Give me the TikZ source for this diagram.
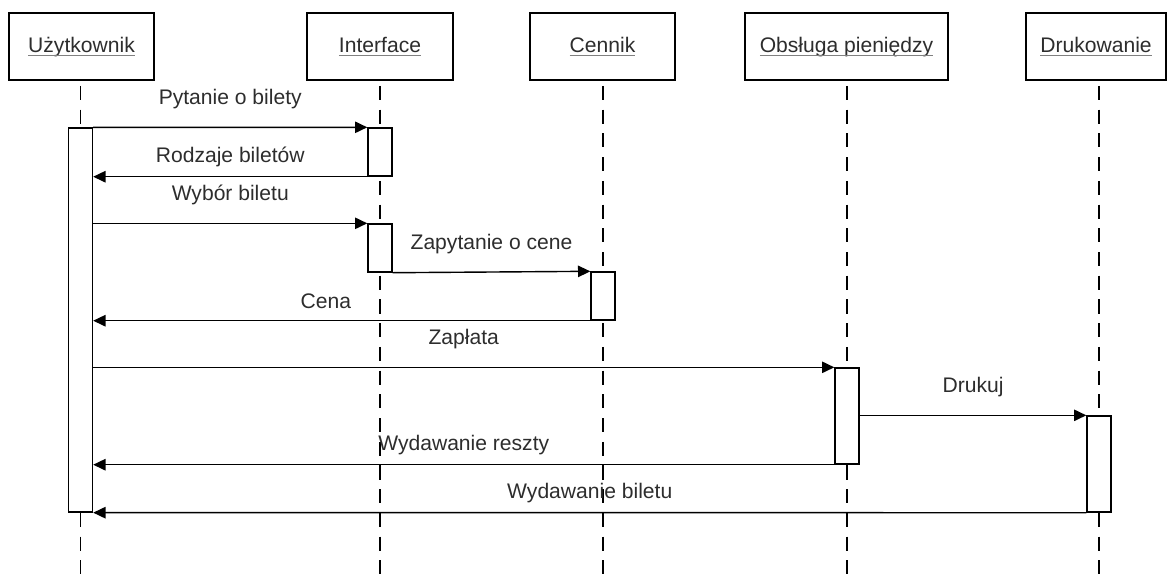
\documentclass[tikz,border=0pt]{standalone}
\usepackage{amsmath}
\usepackage{fontspec}
\setmainfont{Liberation Sans}
\usepackage{tikz}
\usetikzlibrary{arrows.meta,positioning,calc,backgrounds}
\definecolor{labeltext}{RGB}{45,45,45}
\newcommand{\actorname}[1]{\textcolor{gray}{\underline{\textcolor{labeltext}{\smash[b]{#1}}}}}

\begin{document}
\begin{tikzpicture}[
  x=0.02cm, y=-0.02cm,
  font=\fontsize{12}{14}\selectfont,
  actor/.style={draw, line width=0.8pt, minimum height=1.34cm, inner sep=0pt,
                text=labeltext},
  act/.style={draw, fill=white, line width=0.8pt, minimum width=0.48cm, inner sep=0pt},
  life/.style={line width=0.8pt, dash pattern=on 8pt off 5.5pt, shorten <=3pt},
  msg/.style={-{Triangle[length=7pt,width=6.5pt]}, line width=0.8pt},
  fwd/.style={midway, yshift=16pt, inner sep=0pt, text=labeltext},
  back/.style={midway, yshift=11pt, inner sep=0pt, text=labeltext},
]
\useasboundingbox (0,0) rectangle (1168,579);
\coordinate (bot) at (0,579);

% Actors
\node[actor, minimum width=2.9cm] (hu) at (81.5,46.5) {\actorname{Użytkownik}};
\node[actor, minimum width=2.92cm] (hi) at (380,46.5) {\actorname{Interface}};
\node[actor, minimum width=2.9cm] (hc) at (602.5,46.5) {\actorname{Cennik}};
\node[actor, minimum width=4.06cm] (ho) at (846.5,46.5) {\actorname{Obsługa pieniędzy}};
\node[actor, minimum width=2.8cm] (hd) at (1096,46.5) {\actorname{Drukowanie}};

% Activations
\node[act, minimum height=7.68cm] (u) at (80.5,320) {};
\node[act, minimum height=0.96cm] (i1) at (380,152) {};
\node[act, minimum height=0.96cm] (i2) at (380,248) {};
\node[act, minimum height=0.96cm] (c1) at (603,296) {};
\node[act, minimum height=1.92cm] (o1) at (847,416) {};
\node[act, minimum height=1.92cm] (d1) at (1099,464) {};

% Lifelines
\begin{scope}[on background layer]
  \draw[life] (hu.south -| u) -- (u |- bot);
  \draw[life] (hi.south -| i1) -- (i1 |- bot);
  \draw[life] (hc.south -| c1) -- (c1 |- bot);
  \draw[life] (ho.south -| o1) -- (o1 |- bot);
  \draw[life] (hd.south -| d1) -- (d1 |- bot);
\end{scope}

% Messages
\draw[msg] (u.north east) -- node[fwd] {Pytanie o bilety} (i1.north west);
\draw[msg] (i1.south west) -- node[back] {Rodzaje biletów} (i1.south west -| u.east);
\draw[msg] (i2.north west -| u.east) -- node[fwd] {Wybór biletu} (i2.north west);
\draw[msg] (i2.south east) -- node[fwd] {Zapytanie o cene} (c1.north west);
\draw[msg] (c1.south west) -- node[back, xshift=-9pt] {Cena} (c1.south west -| u.east);
\draw[msg] (o1.north west -| u.east) -- node[fwd] {Zapłata} (o1.north west);
\draw[msg] (d1.north west -| o1.east) -- node[fwd] {Drukuj} (d1.north west);
\draw[msg] (o1.south west) -- node[back] {Wydawanie reszty} (o1.south west -| u.east);
\draw[msg] (d1.south west) -- node[back] {Wydawanie biletu} (u.south east);
\end{tikzpicture}
\end{document}
